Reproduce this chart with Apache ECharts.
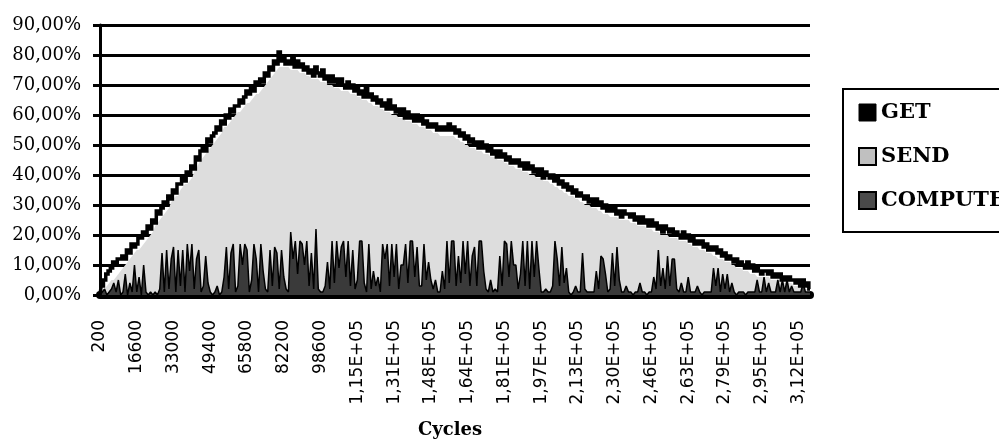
<!DOCTYPE html>
<html>
<head>
<meta charset="utf-8">
<script src="https://cdn.jsdelivr.net/npm/echarts@6/dist/echarts.min.js"></script>
<style>html,body{margin:0;padding:0;background:#fff;}#c{width:999px;height:441px;}</style>
</head>
<body>
<div id="c"></div>
<script>
// Sample positions (cycles): every 1025 cycles starting at 200
const cycleStart = 200;
const cycleStep = 1025;
const pointCount = 310;
const cycles = [];
for (let i = 0; i < pointCount; i++) cycles.push(String(cycleStart + cycleStep * i));

const xTickValues = ['200','16600','33000','49400','65800','82200','98600','115000','131400','147800','164200','180600','197000','213400','229800','246200','262600','279000','295400','311800'];
const xTickLabels = ['200','16600','33000','49400','65800','82200','98600','1,15E+05','1,31E+05','1,48E+05','1,64E+05','1,81E+05','1,97E+05','2,13E+05','2,30E+05','2,46E+05','2,63E+05','2,79E+05','2,95E+05','3,12E+05'];
const yTickLabels = ['0,00%','10,00%','20,00%','30,00%','40,00%','50,00%','60,00%','70,00%','80,00%','90,00%'];

const getValues = [
0,3,5,7,8,9,11,10,12,12, 13,12,15,14,17,16,17,19,19,21, 20,23,22,25,24,28,27,29,31,30,
33,32,35,34,37,37,39,38,41,40, 43,42,46,45,48,49,48,52,51,53, 54,56,55,58,57,60,59,62,61,63,
63,65,64,66,68,67,69,68,71,70, 72,71,74,73,76,75,78,77,81,78, 79,77,78,77,79,76,78,76,77,75,
76,74,75,73,76,74,73,75,72,73, 71,73,71,72,70,72,70,69,71,69, 70,68,69,67,68,66,69,66,67,65,
66,64,65,63,64,62,65,62,63,61, 62,60,62,59,61,59,60,58,60,58, 59,57,58,56,57,56,57,55,56,55,
56,55,57,55,56,54,55,53,54,52, 53,51,52,50,51,49,51,49,50,48, 49,47,48,46,48,46,47,45,46,44,
45,44,45,43,44,42,44,42,43,41, 42,40,42,39,41,40,39,40,38,39, 37,38,36,37,35,36,34,35,33,34,
33,32,33,31,32,30,32,30,31,29, 30,28,29,28,29,27,28,26,28,27, 27,26,27,25,26,24,26,24,25,23,
25,23,24,22,23,21,23,22,21,22, 20,21,20,19,21,19,20,18,19,17, 18,17,18,16,17,15,16,15,16,14,
15,13,14,12,13,12,11,12,10,11, 10,9,11,9,10,8,9,8,7,8, 8,7,8,6,7,6,7,5,6,5,
6,5,5,4,5,3,5,3,4,2
];

const sendValues = [
0,1,2,3,4,5,5,6,7,8, 9,10,11,12,13,14,15,15,16,17, 18,19,20,21,23,24,25,26,27,28,
29,31,32,33,33,35,36,37,37,38, 39,41,42,44,45,46,47,48,49,50, 51,52,53,54,56,56,57,58,59,60,
61,61,62,63,64,64,65,66,67,67, 68,69,70,71,72,73,74,75,76,76, 76,76,76,75,75,75,75,74,74,74,
73,73,72,72,72,72,71,71,71,70, 70,70,69,69,69,68,68,68,68,67, 67,67,66,66,65,65,65,64,64,63,
63,63,62,62,61,61,61,60,60,60, 59,59,59,58,58,58,57,57,57,56, 56,56,55,55,55,54,54,54,53,53,
53,53,53,53,53,52,52,51,51,50, 50,49,49,49,48,48,48,47,47,47, 46,46,46,45,45,45,44,44,43,43,
43,42,42,42,41,41,41,40,40,40, 39,39,39,38,38,38,37,37,36,36, 35,35,34,34,33,33,33,32,32,31,
31,30,30,30,29,29,29,28,28,27, 27,27,26,26,26,26,25,25,25,25, 25,24,24,24,23,23,23,23,22,22,
22,21,21,21,20,20,20,20,19,19, 19,19,18,18,18,18,17,17,16,16, 16,15,15,15,14,14,14,13,13,12,
12,12,11,11,11,10,10,9,9,9, 8,8,8,7,7,7,6,6,6,6, 6,6,5,5,5,5,5,4,4,4,
4,4,3,3,3,3,3,2,2,2
];

const computeValues = [
0,1,2,0,1,2,4,1,5,0, 1,7,0,4,1,10,1,6,0,10, 1,0,1,0,1,0,2,14,1,15,
2,12,16,1,15,3,15,1,17,8, 17,2,12,15,1,3,13,4,1,0, 1,3,0,1,6,16,2,14,17,1,
3,17,10,17,15,1,5,17,12,1, 17,8,2,1,15,3,16,14,2,15, 6,2,1,21,12,18,7,18,17,10,
18,3,14,2,22,2,1,1,3,11, 2,18,4,18,9,16,18,6,18,3, 15,2,5,18,18,4,1,17,2,8,
3,6,1,17,12,17,3,17,6,17, 2,10,10,17,4,18,18,6,16,3, 3,17,5,11,5,2,5,1,1,8,
2,18,4,18,18,3,13,4,18,7, 18,3,13,16,3,18,18,8,2,1, 5,1,2,1,13,3,18,17,6,18,
10,10,2,7,18,3,18,2,18,6, 18,9,1,1,2,1,1,3,18,12, 3,16,4,9,1,0,1,3,1,1,
14,2,1,1,1,1,8,2,13,12, 7,1,2,14,3,16,5,1,1,3, 1,1,0,1,1,4,1,1,0,1,
1,6,2,15,3,9,2,13,3,12, 12,2,1,4,1,1,6,1,1,1, 3,1,0,1,1,1,1,9,3,9,
1,7,2,7,1,4,1,0,1,1, 1,0,1,1,1,1,5,1,1,6, 1,4,1,1,1,5,1,5,1,5,
1,3,1,1,1,1,4,1,1,1
];

const labelByCycle = {};
xTickValues.forEach((v, k) => { labelByCycle[v] = xTickLabels[k]; });

const chart = echarts.init(document.getElementById('c'), null, {renderer: 'canvas'});
chart.setOption({
  animation: false,
  backgroundColor: '#ffffff',
  title: {
    text: 'Cycles', left: 413, top: 416,
    textStyle: {fontFamily: 'DejaVu Serif', fontWeight: 'bold', fontSize: 18, color: '#000'}
  },
  legend: {
    orient: 'vertical', left: 843, top: 89,
    icon: 'rect', itemWidth: 17, itemHeight: 17, itemGap: 23,
    padding: [13, 20, 21, 15],
    borderColor: '#000', borderWidth: 2, backgroundColor: '#fff',
    textStyle: {fontFamily: 'DejaVu Serif', fontWeight: 'bold', fontSize: 21, lineHeight: 21, color: '#000'},
    data: [
      {name: 'GET', itemStyle: {color: '#000000', borderColor: '#000', borderWidth: 1}},
      {name: 'SEND', itemStyle: {color: '#c0c0c0', borderColor: '#000', borderWidth: 2}},
      {name: 'COMPUTE', itemStyle: {color: '#4a4a4a', borderColor: '#000', borderWidth: 2}}
    ]
  },
  grid: {left: 100, right: 189, top: 25, bottom: 146, containLabel: false},
  xAxis: {
    type: 'category', data: cycles, boundaryGap: false, offset: 3,
    axisLine: {show: true, lineStyle: {color: '#000', width: 8}},
    axisTick: {show: false},
    splitLine: {show: false},
    axisLabel: {
      interval: 15, rotate: 90, margin: 22,
      fontFamily: 'DejaVu Sans', fontSize: 17, color: '#000',
      formatter: v => labelByCycle[String(v)] || ''
    }
  },
  yAxis: {
    type: 'value', min: 0, max: 90, interval: 10,
    axisLine: {show: true, lineStyle: {color: '#000', width: 3}},
    axisTick: {show: true, length: 7, lineStyle: {color: '#000', width: 3}},
    splitLine: {show: true, lineStyle: {color: '#000', width: 3}},
    axisLabel: {
      margin: 19, fontFamily: 'DejaVu Serif', fontSize: 18, color: '#000',
      formatter: v => yTickLabels[Math.round(v / 10)]
    }
  },
  series: [
    {
      name: 'SEND', type: 'line', data: sendValues, symbol: 'none', z: 2,
      color: '#dddddd',
      lineStyle: {width: 0, color: '#dddddd'},
      areaStyle: {color: '#dddddd', opacity: 1}
    },
    {
      name: 'COMPUTE', type: 'line', data: computeValues, symbol: 'none', z: 3,
      color: '#3a3a3a',
      lineStyle: {width: 1.5, color: '#000'},
      areaStyle: {color: '#3a3a3a', opacity: 1}
    },
    {
      name: 'GET', type: 'line', data: getValues, symbol: 'none', z: 4,
      step: 'middle',
      color: '#000',
      lineStyle: {width: 3.5, color: '#000', join: 'miter'}
    }
  ]
});
</script>
</body>
</html>
